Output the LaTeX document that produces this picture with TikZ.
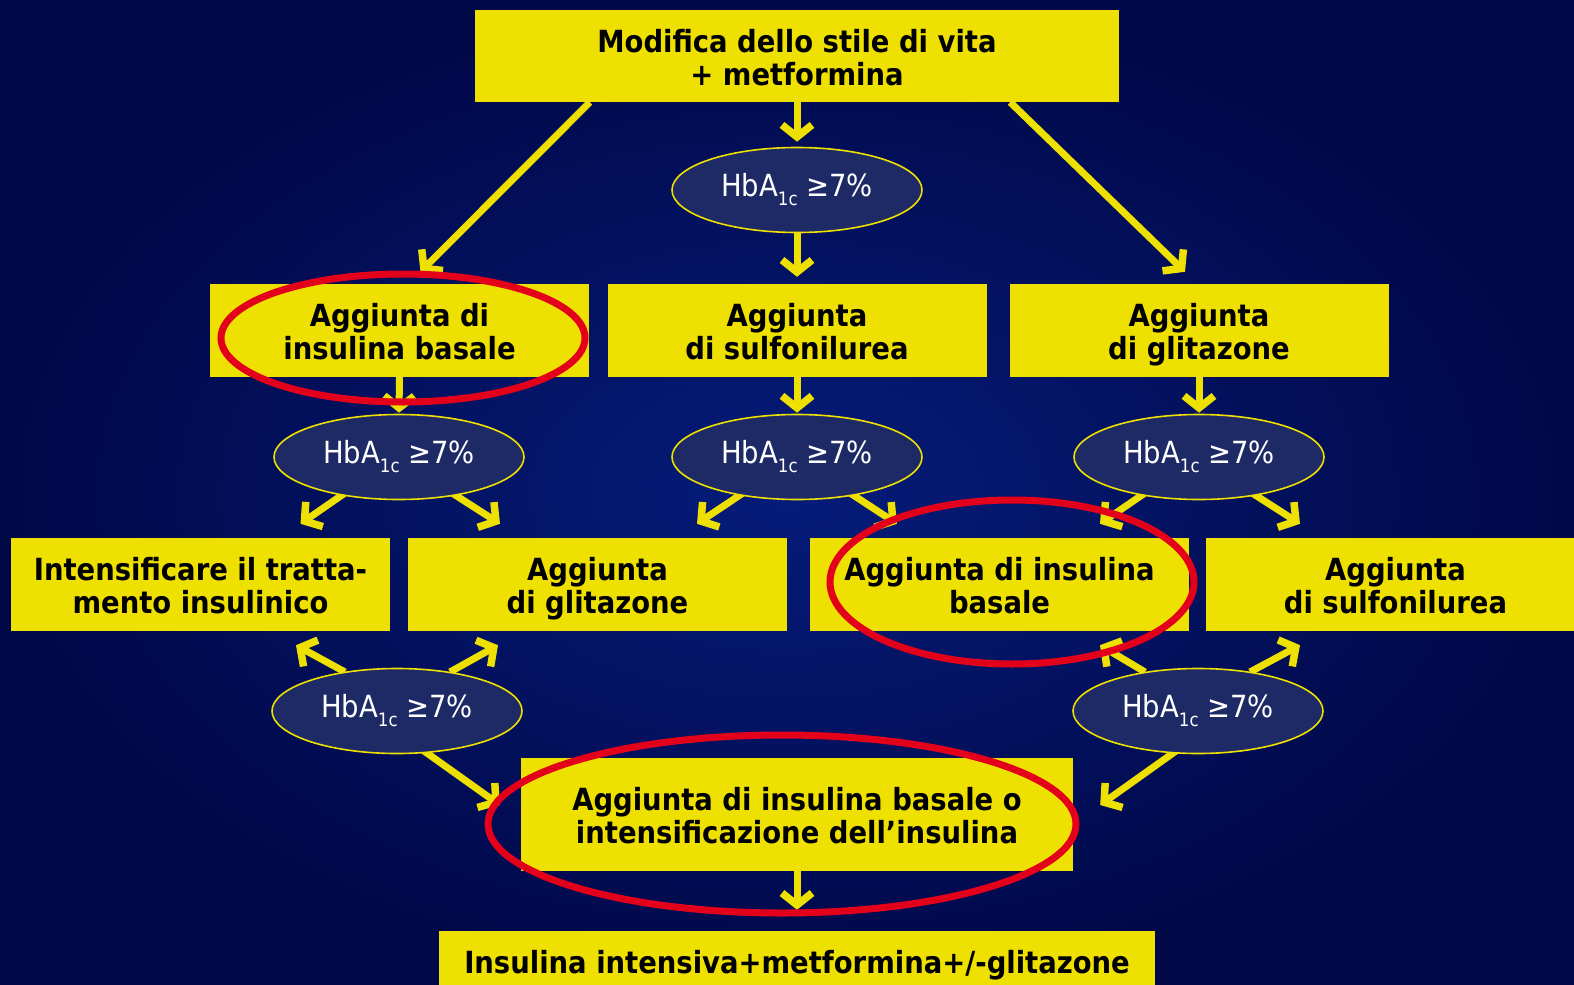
\documentclass[tikz,border=0pt]{standalone}
\usepackage{fontspec}
\setmainfont{DejaVu Sans Condensed}
\usetikzlibrary{arrows.meta,shapes.geometric}
\definecolor{ylw}{RGB}{238,224,0}
\definecolor{navy}{RGB}{0,8,72}
\definecolor{navyc}{RGB}{6,28,122}
\definecolor{ellf}{RGB}{30,42,102}
\definecolor{redr}{RGB}{226,0,26}
\pgfdeclarelayer{bg}\pgfdeclarelayer{arr}\pgfsetlayers{bg,arr,main}
\newcommand{\hba}{HbA\raisebox{-9pt}{\fontsize{18.5}{18.5}\selectfont 1c} ≥7\%}
\newcommand{\tp}{\rule{0pt}{35pt}}
\begin{document}
\begin{tikzpicture}[x=1pt,y=-1pt,
 box/.style={fill=ylw, draw=none, minimum width=379pt, minimum height=93pt, align=center,
   font=\fontsize{30.5}{33}\selectfont\bfseries, text=black, inner sep=0pt,
   execute at end node=\rule[-9.9pt]{0pt}{9.9pt}},
 hb/.style={ellipse, fill=ellf, draw=ylw, line width=1.6pt, minimum width=250pt,
   minimum height=85pt, inner sep=0pt, text=white, font=\fontsize{30.5}{33}\selectfont},
 yarrow/.style={draw=ylw, line width=7pt, -{Straight Barb[length=12pt,width=30pt,line width=7.5pt]}},
 ring/.style={draw=redr, line width=7pt}]
\useasboundingbox (0,0) rectangle (1574,985);
\begin{pgfonlayer}{bg}
\fill[navy] (0,0) rectangle (1574,985);
\shade[inner color=navyc, outer color=navy] (0,0) rectangle (1574,985);
\end{pgfonlayer}

\node[box, minimum width=644pt, minimum height=92pt] (top) at (797,56) {\tp Modifica dello stile di vita\\+ metformina};
\node[hb] (e0) at (797,190) {\hba};
\node[box] (b1) at (399.5,330.5) {\tp Aggiunta di\\insulina basale};
\node[box] (b2) at (797,330.5) {\tp Aggiunta\\di sulfonilurea};
\node[box] (b3) at (1199,330.5) {\tp Aggiunta\\di glitazone};
\node[hb] (e1) at (399,457) {\hba};
\node[hb] (e2) at (797,457) {\hba};
\node[hb] (e3) at (1199,457) {\hba};
\node[box] (c1) at (200.5,584.5) {\tp Intensificare il tratta-\\mento insulinico};
\node[box] (c2) at (597.5,584.5) {\tp Aggiunta\\di glitazone};
\node[box] (c3) at (999.5,584.5) {\tp Aggiunta di insulina\\basale};
\node[box] (c4) at (1395.5,584.5) {\tp Aggiunta\\di sulfonilurea};
\node[hb] (e4) at (397,711) {\hba};
\node[hb] (e5) at (1198,711) {\hba};
\node[box, minimum width=552pt, minimum height=113pt] (d1) at (797,814.5) {\tp Aggiunta di insulina basale o\\intensificazione dell’insulina};
\node[box, minimum width=716pt, minimum height=60pt] (d2) at (797,961) {\tp Insulina intensiva+metformina+/-glitazone};

\begin{pgfonlayer}{arr}
\draw[yarrow] (top.south) -- ([yshift=5pt]e0.north);
\draw[yarrow] ([xshift=115pt]top.south west) -- ([xshift=21pt,yshift=12pt]b1.north);
\draw[yarrow] ([xshift=-109pt]top.south east) -- ([xshift=-14pt,yshift=12pt]b3.north);
\draw[yarrow] (e0.center) -- ([yshift=7pt]b2.north);
\draw[yarrow] (b1.south) -- ([yshift=1pt]e1.north);
\draw[yarrow] (b2.south) -- ([yshift=1pt]e2.north);
\draw[yarrow] (b3.south) -- ([yshift=1pt]e3.north);
\draw[yarrow] ([shift={(-54,36)}]e1.center) -- ([shift={(100,-14)}]c1.north);
\draw[yarrow] ([shift={(53,36)}]e1.center) -- ([shift={(-97.5,-14)}]c2.north);
\draw[yarrow] ([shift={(-54,36)}]e2.center) -- ([shift={(99.5,-14)}]c2.north);
\draw[yarrow] ([shift={(53,36)}]e2.center) -- ([shift={(-102.5,-14)}]c3.north);
\draw[yarrow] ([shift={(-54,36)}]e3.center) -- ([shift={(100.5,-14)}]c3.north);
\draw[yarrow] ([shift={(53,36)}]e3.center) -- ([shift={(-95.5,-14)}]c4.north);
\draw[yarrow] ([shift={(-52,-39)}]e4.center) -- ([shift={(95.5,14)}]c1.south);
\draw[yarrow] ([shift={(53,-39)}]e4.center) -- ([shift={(-99.5,14)}]c2.south);
\draw[yarrow] ([shift={(-53,-39)}]e5.center) -- ([shift={(100.5,14)}]c3.south);
\draw[yarrow] ([shift={(52,-39)}]e5.center) -- ([shift={(-95.5,14)}]c4.south);
\draw[yarrow] ([shift={(13,30)}]e4.center) -- ([shift={(-21,-9.5)}]d1.west);
\draw[yarrow] ([shift={(-8,30)}]e5.center) -- ([shift={(27,-9.5)}]d1.east);
\draw[yarrow] (d1.center) -- ([yshift=21pt]d2.north);
\end{pgfonlayer}

\draw[ring] (403,338) ellipse [x radius=182, y radius=64];
\draw[ring] (1012,582) ellipse [x radius=182, y radius=82];
\draw[ring] (782,824) ellipse [x radius=294, y radius=89];
\end{tikzpicture}
\end{document}
